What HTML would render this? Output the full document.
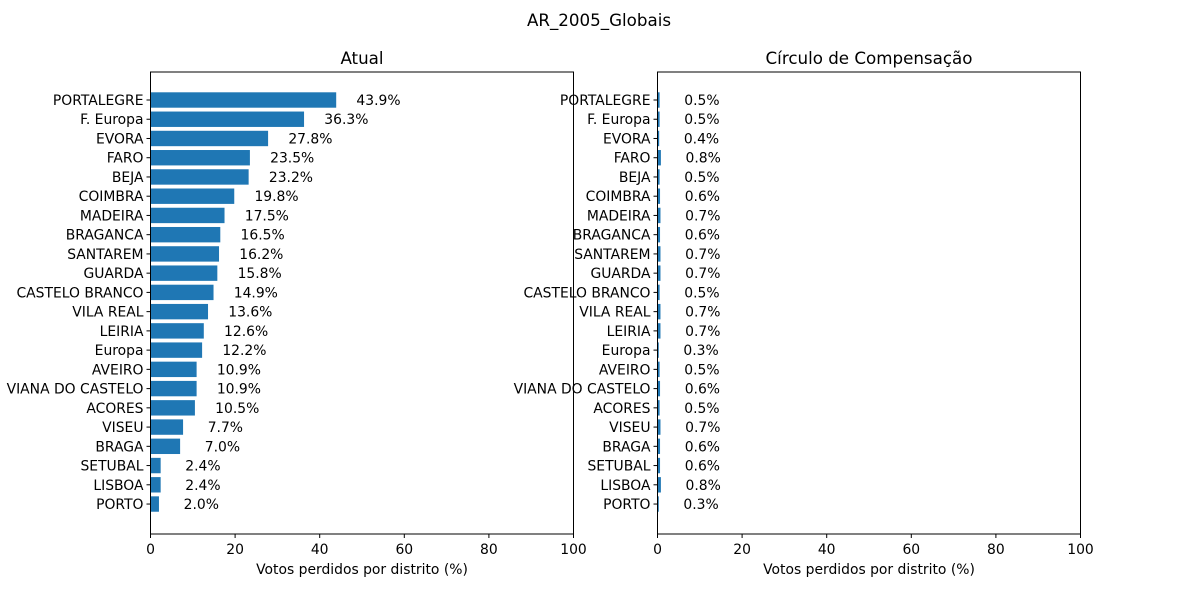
<!DOCTYPE html>
<html><head><meta charset="utf-8"><style>
body{margin:0;background:#fff;}
svg text{font-family:"DejaVu Sans","Liberation Sans",sans-serif;fill:#000;}
</style></head><body>
<svg id="chart" width="1200" height="600" xmlns="http://www.w3.org/2000/svg">
<text x="599" y="26" font-size="16.7" text-anchor="middle">AR_2005_Globais</text>
</svg>
<script>
const districts=["PORTALEGRE","F. Europa","EVORA","FARO","BEJA","COIMBRA","MADEIRA","BRAGANCA","SANTAREM","GUARDA","CASTELO BRANCO","VILA REAL","LEIRIA","Europa","AVEIRO","VIANA DO CASTELO","ACORES","VISEU","BRAGA","SETUBAL","LISBOA","PORTO"];
const atual=[43.9,36.3,27.8,23.5,23.2,19.8,17.5,16.5,16.2,15.8,14.9,13.6,12.6,12.2,10.9,10.9,10.5,7.7,7.0,2.4,2.4,2.0];
const compensacao=[0.5,0.5,0.4,0.8,0.5,0.6,0.7,0.6,0.7,0.7,0.5,0.7,0.7,0.3,0.5,0.6,0.5,0.7,0.6,0.6,0.8,0.3];
const xTicks=[0,20,40,60,80,100];
const svg=document.getElementById('chart');
const NS='http://www.w3.org/2000/svg';
function mk(tag,attrs,parent){const e=document.createElementNS(NS,tag);for(const k in attrs)e.setAttribute(k,attrs[k]);(parent||svg).appendChild(e);return e;}
function panel(x0,title,values,key){
  const W=423,top=72,bot=534;
  const xs=v=>x0+v/100*W;
  const ys=i=>100+i*19.24;
  const g=mk('g',{});
  
  
  const t=mk('text',{x:x0+W/2,y:64,'font-size':16.7,'text-anchor':'middle'},g);
  t.textContent=title;
  
  
  values.forEach((v,i)=>{
    const b=mk('rect',{x:xs(0),y:ys(i)-7.7,width:xs(v)-xs(0),height:15.4,fill:'#1f77b4'},g);
    
    
    const vt=mk('text',{x:xs(v+10),y:ys(i)+5,'font-size':13.9,'text-anchor':'middle'},g);
    vt.textContent=v.toFixed(1)+'%';
    
    
    mk('line',{x1:x0-4,x2:x0,y1:ys(i),y2:ys(i),stroke:'#000'},g);
    const lt=mk('text',{x:x0-7,y:ys(i)+5,'font-size':13.9,'text-anchor':'end'},g);
    lt.textContent=districts[i];
    
    
  });
  const fr=mk('rect',{x:x0,y:top,width:W,height:bot-top,fill:'none',stroke:'#000','stroke-width':1},g);
  
  
  xTicks.forEach(v=>{
    mk('line',{x1:xs(v),x2:xs(v),y1:bot,y2:bot+4,stroke:'#000'},g);
    const tt=mk('text',{x:xs(v),y:bot+20,'font-size':13.9,'text-anchor':'middle'},g);
    tt.textContent=v;
    
    
  });
  const xl=mk('text',{x:x0+W/2,y:574,'font-size':13.9,'text-anchor':'middle'},g);
  xl.textContent='Votos perdidos por distrito (%)';
  
  
}
panel(150.5,'Atual',atual,'atual');
panel(657.5,'Círculo de Compensação',compensacao,'compensacao');
</script>
</body></html>
